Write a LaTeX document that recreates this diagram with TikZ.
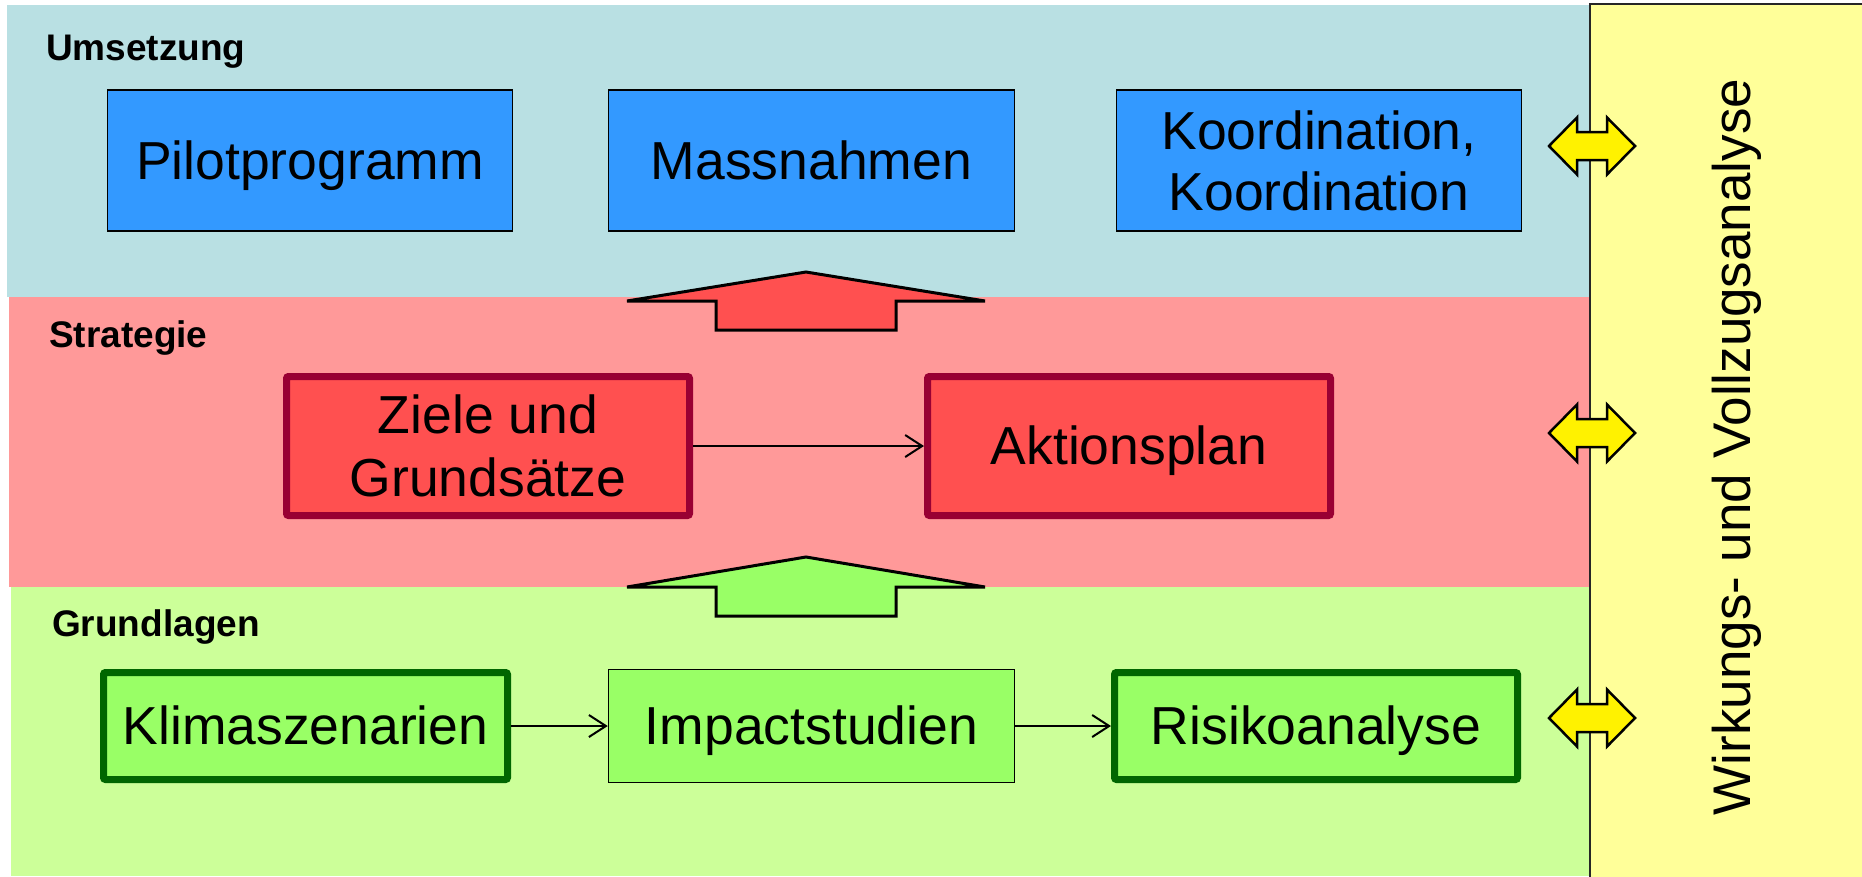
\documentclass[tikz,border=0pt]{standalone}
\usepackage{fontspec}
\setmainfont{Liberation Sans}
\usetikzlibrary{arrows.meta}
\definecolor{bandU}{HTML}{B9E0E3}
\definecolor{bandS}{HTML}{FF9999}
\definecolor{bandG}{HTML}{CCFF99}
\definecolor{panelY}{HTML}{FFFF99}
\definecolor{boxB}{HTML}{3399FF}
\definecolor{boxR}{HTML}{FF5050}
\definecolor{edgeR}{HTML}{990033}
\definecolor{boxG}{HTML}{99FF66}
\definecolor{edgeG}{HTML}{006600}
\tikzset{
  oneline/.style={text height=48.4pt, text depth=11.3pt},
  bluebox/.style={draw=black, line width=1.5pt, fill=boxB, minimum width=405pt, minimum height=141pt, inner sep=0pt, font=\fontsize{53.5}{61}\selectfont, align=center},
  redbox/.style={draw=edgeR, line width=7pt, fill=boxR, rounded corners=2pt, minimum width=403pt, minimum height=139pt, inner sep=0pt, font=\fontsize{53.5}{63}\selectfont, align=center},
  greenbox/.style={draw=edgeG, line width=7pt, fill=boxG, rounded corners=2pt, minimum width=403pt, minimum height=107pt, inner sep=0pt, font=\fontsize{53.5}{60}\selectfont, oneline},
  thingreen/.style={draw=black, line width=1.5pt, fill=boxG, minimum width=406pt, minimum height=113pt, inner sep=0pt, font=\fontsize{53.5}{60}\selectfont, oneline},
  bandlabel/.style={anchor=base west, inner sep=0pt, font=\fontsize{37}{44}\selectfont\bfseries},
  flow/.style={line width=2pt, -{Straight Barb[length=17pt,width=22pt,line width=2pt]}},
  blockarrow/.style={draw=black, line width=3pt, line join=miter},
  dblarrow/.style={draw=black, line width=2.5pt, fill=yellow, line join=miter},
}
\begin{document}
\begin{tikzpicture}[x=1pt, y=-1pt]
\useasboundingbox (0,0) rectangle (1862,876);
\fill[white] (0,0) rectangle (1862,876);
% bands
\fill[bandU] (7,5) rectangle (1590,297);
\fill[bandS] (9,297) rectangle (1590,587);
\fill[bandG] (11,587) rectangle (1590,876);
\draw[line width=2.5pt, draw=black!85, fill=panelY] (1590,4) rectangle (1875,890);
% band labels
\node[bandlabel] (lu) at (46,60) {Umsetzung};
\node[bandlabel] (ls) at (49,347.5) {Strategie};
\node[bandlabel] (lg) at (52,636) {Grundlagen};
% Umsetzung boxes
\node[bluebox, oneline] (pilot) at (310,160.5) {Pilotprogramm};
\node[bluebox, oneline, minimum width=406pt] (mass) at (811.5,160.5) {Massnahmen};
\node[bluebox] (koord) at (1319,160.5) {Koordination,\\Koordination};
% Strategie boxes
\node[redbox] (ziele) at (488,446) {Ziele und\\Grundsätze};
\node[redbox, oneline] (aktion) at (1129,446) {Aktionsplan};
% Grundlagen boxes
\node[greenbox, minimum width=404pt] (klima) at (305.5,726) {Klimaszenarien};
\node[thingreen] (impact) at (811.5,726) {Impactstudien};
\node[greenbox] (risiko) at (1316,726) {Risikoanalyse};
% connectors
\draw[flow] (ziele.east) -- (aktion.west);
\draw[flow] (klima.east) -- (impact.west);
\draw[flow] (impact.east) -- (risiko.west);
% block arrows
\filldraw[blockarrow, fill=boxR] (627,301) -- (806,272) -- (985,301) -- (896,301) -- (896,330) -- (716,330) -- (716,301) -- cycle;
\filldraw[blockarrow, fill=boxG] (627,587) -- (806,557) -- (985,587) -- (896,587) -- (896,616) -- (716,616) -- (716,587) -- cycle;
% double arrows
\foreach \c in {146,433,718}{
  \filldraw[dblarrow] (1549,\c) -- (1577,\c-28.5) -- (1577,\c-14) -- (1607,\c-14) -- (1607,\c-28.5) -- (1635,\c) -- (1607,\c+28.5) -- (1607,\c+14) -- (1577,\c+14) -- (1577,\c+28.5) -- cycle;
}
% side text
\node[rotate=90, anchor=base, inner sep=0pt, font=\fontsize{53}{60}\selectfont] (wirk) at (1750,447) {Wirkungs- und Vollzugsanalyse};
\end{tikzpicture}
\end{document}
